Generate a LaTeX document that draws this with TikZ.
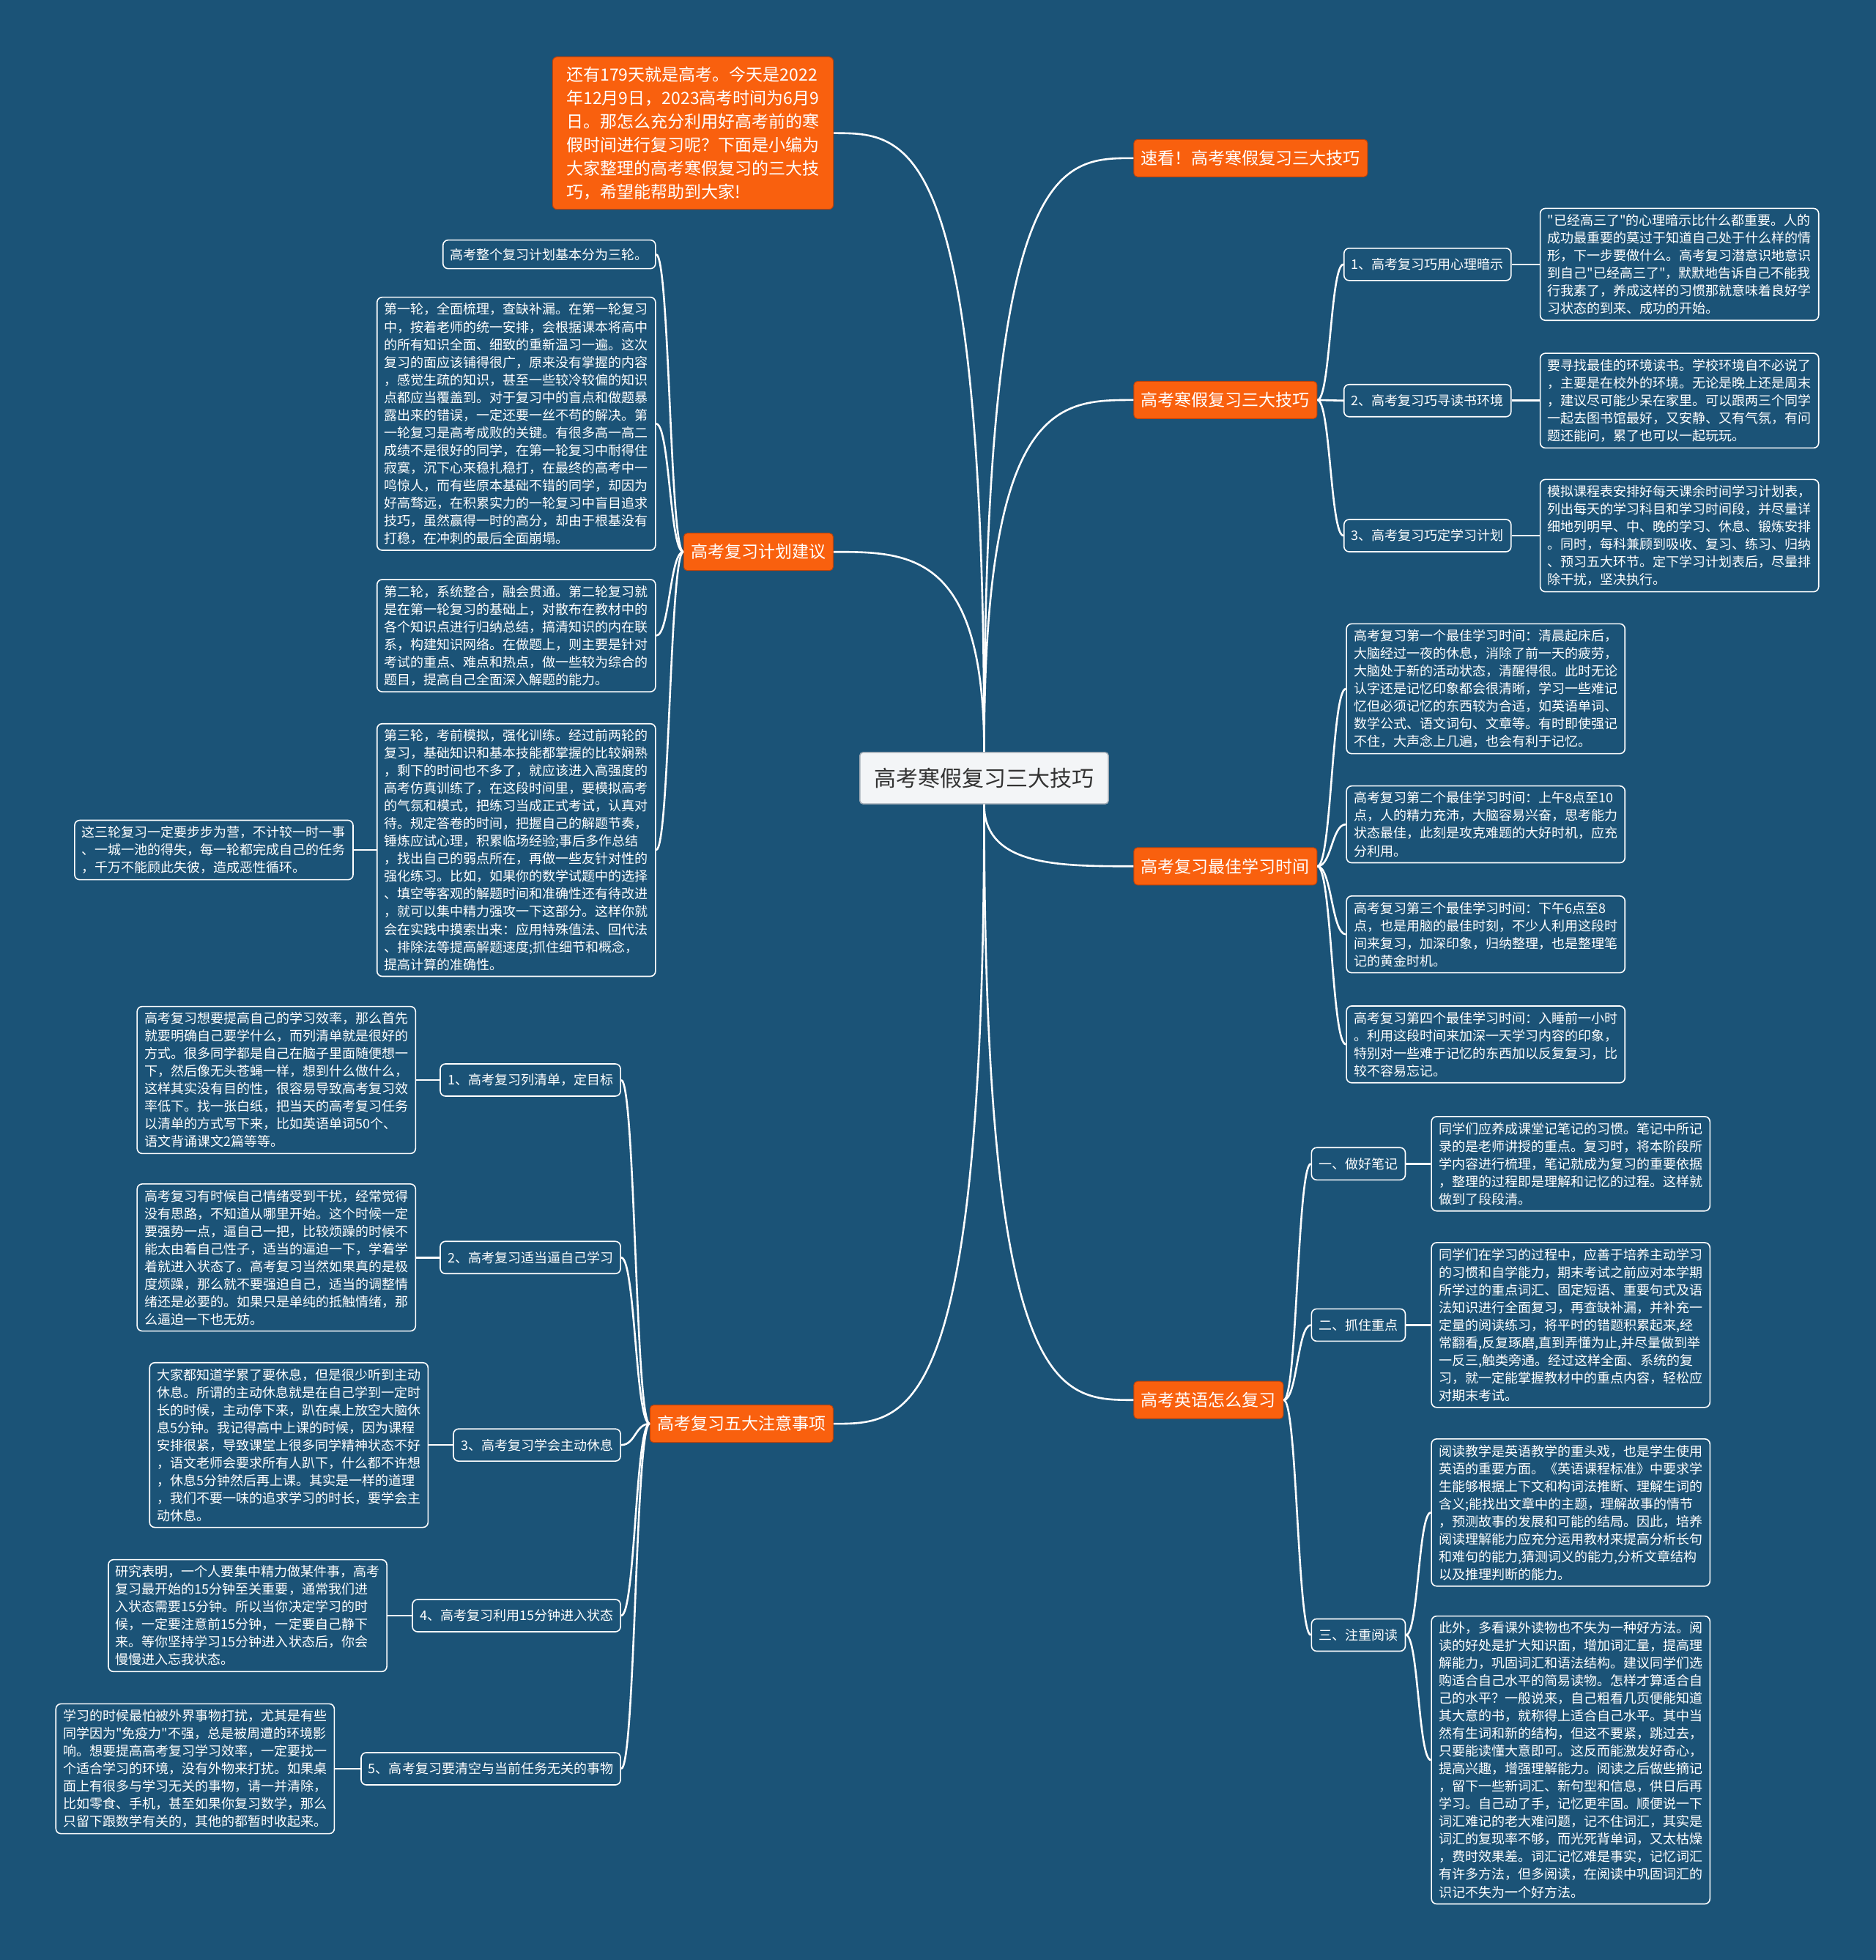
\documentclass[tikz,border=0pt]{standalone}
\usepackage{fontspec}
\setmainfont{Noto Sans CJK SC}
\newfontfamily\cjkf{Noto Sans CJK SC}
\usetikzlibrary{calc}
\definecolor{bg}{RGB}{27,83,119}
\definecolor{org}{RGB}{249,96,14}
\definecolor{orgd}{RGB}{190,66,10}
\definecolor{ctext}{RGB}{51,51,51}
\definecolor{cfill}{RGB}{243,245,247}
\definecolor{cborder}{RGB}{160,170,180}
\newcommand\mmelbow[2]{\draw[conn] let \p1=(#1), \p2=(#2) in (\p1) .. controls (\x1,\y2) and ({0.5*\x1+0.5*\x2},\y2) .. (\p2);}
\newcommand\mmscurve[2]{\draw[conn] let \p1=(#1), \p2=(#2) in (\p1) .. controls ({0.5*\x1+0.5*\x2},\y1) and ({0.5*\x1+0.5*\x2},\y2) .. (\p2);}
\begin{document}
\begin{tikzpicture}[x=1.7055pt,y=-1.7055pt,
  conn/.style={draw=white, line width=2.6pt},
  ctr/.style={draw=cborder, fill=cfill, line width=1.5pt, rounded corners=4pt, text=ctext, font=\cjkf\fontsize{30}{36}\selectfont, minimum width=339pt, minimum height=70pt},
  br/.style={fill=org, draw=orgd, line width=1pt, rounded corners=5pt, text=white, font=\cjkf\fontsize{23}{28}\selectfont, inner xsep=10pt, minimum height=51pt},
  introbox/.style={fill=org, draw=orgd, line width=1pt, rounded corners=6pt, text=white, font=\cjkf\fontsize{23}{32}\selectfont, align=left, inner xsep=19pt, inner ysep=13pt},
  lab/.style={draw=white, line width=1.6pt, rounded corners=7pt, text=white, font=\cjkf\fontsize{18}{24}\selectfont, inner xsep=10pt, minimum height=44pt},
  det/.style={draw=white, line width=1.6pt, rounded corners=7pt, text=white, font=\cjkf\fontsize{18}{24}\selectfont, align=left, inner xsep=10pt, inner ysep=8pt}
]
\fill[bg] (0,0) rectangle (1501,1568);
\useasboundingbox (0,0) rectangle (1501,1568);

% center
\node[ctr] (c) at (787.5,622.5) {高考寒假复习三大技巧};

% intro
\node[introbox] (intro) at (554.5,106.5) {还有179天就是高考。今天是2022\\年12月9日，2023高考时间为6月9\\日。那怎么充分利用好高考前的寒\\假时间进行复习呢？下面是小编为\\大家整理的高考寒假复习的三大技\\巧，希望能帮助到大家!};

% branches
\node[br, anchor=west] (b1) at (907,126.5) {速看！高考寒假复习三大技巧};
\node[br, anchor=west] (b2) at (907,320) {高考寒假复习三大技巧};
\node[br, anchor=west] (b3) at (907,693) {高考复习最佳学习时间};
\node[br, anchor=west] (b4) at (907,1120) {高考英语怎么复习};
\node[br, anchor=east] (b5) at (667,441.5) {高考复习计划建议};
\node[br, anchor=east] (b6) at (667,1139) {高考复习五大注意事项};

% b2 children
\node[lab, anchor=west] (l1) at (1075,211.5) {1、高考复习巧用心理暗示};
\node[lab, anchor=west] (l2) at (1075,320.5) {2、高考复习巧寻读书环境};
\node[lab, anchor=west] (l3) at (1075,428.5) {3、高考复习巧定学习计划};
\node[det, anchor=west] (d1) at (1232,211.5) {"已经高三了"的心理暗示比什么都重要。人的\\成功最重要的莫过于知道自己处于什么样的情\\形，下一步要做什么。高考复习潜意识地意识\\到自己"已经高三了"，默默地告诉自己不能我\\行我素了，养成这样的习惯那就意味着良好学\\习状态的到来、成功的开始。};
\node[det, anchor=west] (d2) at (1232,320.5) {要寻找最佳的环境读书。学校环境自不必说了\\，主要是在校外的环境。无论是晚上还是周末\\，建议尽可能少呆在家里。可以跟两三个同学\\一起去图书馆最好，又安静、又有气氛，有问\\题还能问，累了也可以一起玩玩。};
\node[det, anchor=west] (d3) at (1232,428.5) {模拟课程表安排好每天课余时间学习计划表，\\列出每天的学习科目和学习时间段，并尽量详\\细地列明早、中、晚的学习、休息、锻炼安排\\。同时，每科兼顾到吸收、复习、练习、归纳\\、预习五大环节。定下学习计划表后，尽量排\\除干扰，坚决执行。};

% b3 children
\node[det, anchor=west] (t1) at (1077,551) {高考复习第一个最佳学习时间：清晨起床后，\\大脑经过一夜的休息，消除了前一天的疲劳，\\大脑处于新的活动状态，清醒得很。此时无论\\认字还是记忆印象都会很清晰，学习一些难记\\忆但必须记忆的东西较为合适，如英语单词、\\数学公式、语文词句、文章等。有时即使强记\\不住，大声念上几遍，也会有利于记忆。};
\node[det, anchor=west] (t2) at (1077,659.5) {高考复习第二个最佳学习时间：上午8点至10\\点，人的精力充沛，大脑容易兴奋，思考能力\\状态最佳，此刻是攻克难题的大好时机，应充\\分利用。};
\node[det, anchor=west] (t3) at (1077,747.5) {高考复习第三个最佳学习时间：下午6点至8\\点，也是用脑的最佳时刻，不少人利用这段时\\间来复习，加深印象，归纳整理，也是整理笔\\记的黄金时机。};
\node[det, anchor=west] (t4) at (1077,835.5) {高考复习第四个最佳学习时间：入睡前一小时\\。利用这段时间来加深一天学习内容的印象，\\特别对一些难于记忆的东西加以反复复习，比\\较不容易忘记。};

% b4 children
\node[lab, anchor=west] (e1) at (1049,931) {一、做好笔记};
\node[lab, anchor=west] (e2) at (1049,1060) {二、抓住重点};
\node[lab, anchor=west] (e3) at (1049,1308) {三、注重阅读};
\node[det, anchor=west] (e1t) at (1145,931) {同学们应养成课堂记笔记的习惯。笔记中所记\\录的是老师讲授的重点。复习时，将本阶段所\\学内容进行梳理，笔记就成为复习的重要依据\\，整理的过程即是理解和记忆的过程。这样就\\做到了段段清。};
\node[det, anchor=west] (e2t) at (1145,1060) {同学们在学习的过程中，应善于培养主动学习\\的习惯和自学能力，期末考试之前应对本学期\\所学过的重点词汇、固定短语、重要句式及语\\法知识进行全面复习，再查缺补漏，并补充一\\定量的阅读练习，将平时的错题积累起来,经\\常翻看,反复琢磨,直到弄懂为止,并尽量做到举\\一反三,触类旁通。经过这样全面、系统的复\\习，就一定能掌握教材中的重点内容，轻松应\\对期末考试。};
\node[det, anchor=west] (e3a) at (1145,1210) {阅读教学是英语教学的重头戏，也是学生使用\\英语的重要方面。《英语课程标准》中要求学\\生能够根据上下文和构词法推断、理解生词的\\含义;能找出文章中的主题，理解故事的情节\\，预测故事的发展和可能的结局。因此，培养\\阅读理解能力应充分运用教材来提高分析长句\\和难句的能力,猜测词义的能力,分析文章结构\\以及推理判断的能力。};
\node[det, anchor=west] (e3b) at (1145,1408) {此外，多看课外读物也不失为一种好方法。阅\\读的好处是扩大知识面，增加词汇量，提高理\\解能力，巩固词汇和语法结构。建议同学们选\\购适合自己水平的简易读物。怎样才算适合自\\己的水平？一般说来，自己粗看几页便能知道\\其大意的书，就称得上适合自己水平。其中当\\然有生词和新的结构，但这不要紧，跳过去，\\只要能读懂大意即可。这反而能激发好奇心，\\提高兴趣，增强理解能力。阅读之后做些摘记\\，留下一些新词汇、新句型和信息，供日后再\\学习。自己动了手，记忆更牢固。顺便说一下\\词汇难记的老大难问题，记不住词汇，其实是\\词汇的复现率不够，而光死背单词，又太枯燥\\，费时效果差。词汇记忆难是事实，记忆词汇\\有许多方法，但多阅读，在阅读中巩固词汇的\\识记不失为一个好方法。};

% b5 children
\node[det, anchor=east, minimum height=39pt] (p0) at (525,203.5) {高考整个复习计划基本分为三轮。};
\node[det, anchor=east] (p1) at (525,339) {第一轮，全面梳理，查缺补漏。在第一轮复习\\中，按着老师的统一安排，会根据课本将高中\\的所有知识全面、细致的重新温习一遍。这次\\复习的面应该铺得很广，原来没有掌握的内容\\，感觉生疏的知识，甚至一些较冷较偏的知识\\点都应当覆盖到。对于复习中的盲点和做题暴\\露出来的错误，一定还要一丝不苟的解决。第\\一轮复习是高考成败的关键。有很多高一高二\\成绩不是很好的同学，在第一轮复习中耐得住\\寂寞，沉下心来稳扎稳打，在最终的高考中一\\鸣惊人，而有些原本基础不错的同学，却因为\\好高骛远，在积累实力的一轮复习中盲目追求\\技巧，虽然赢得一时的高分，却由于根基没有\\打稳，在冲刺的最后全面崩塌。};
\node[det, anchor=east] (p2) at (525,508.5) {第二轮，系统整合，融会贯通。第二轮复习就\\是在第一轮复习的基础上，对散布在教材中的\\各个知识点进行归纳总结，搞清知识的内在联\\系，构建知识网络。在做题上，则主要是针对\\考试的重点、难点和热点，做一些较为综合的\\题目，提高自己全面深入解题的能力。};
\node[det, anchor=east] (p3) at (525,680) {第三轮，考前模拟，强化训练。经过前两轮的\\复习，基础知识和基本技能都掌握的比较娴熟\\，剩下的时间也不多了，就应该进入高强度的\\高考仿真训练了，在这段时间里，要模拟高考\\的气氛和模式，把练习当成正式考试，认真对\\待。规定答卷的时间，把握自己的解题节奏，\\锤炼应试心理，积累临场经验;事后多作总结\\，找出自己的弱点所在，再做一些友针对性的\\强化练习。比如，如果你的数学试题中的选择\\、填空等客观的解题时间和准确性还有待改进\\，就可以集中精力强攻一下这部分。这样你就\\会在实践中摸索出来：应用特殊值法、回代法\\、排除法等提高解题速度;抓住细节和概念，\\提高计算的准确性。};
\node[det, anchor=east] (p4) at (283,680) {这三轮复习一定要步步为营，不计较一时一事\\、一城一池的得失，每一轮都完成自己的任务\\，千万不能顾此失彼，造成恶性循环。};

% b6 children
\node[lab, anchor=east] (f1) at (497,864) {1、高考复习列清单，定目标};
\node[lab, anchor=east] (f2) at (497,1006) {2、高考复习适当逼自己学习};
\node[lab, anchor=east] (f3) at (497,1156) {3、高考复习学会主动休息};
\node[lab, anchor=east] (f4) at (497,1292.5) {4、高考复习利用15分钟进入状态};
\node[lab, anchor=east] (f5) at (497,1415) {5、高考复习要清空与当前任务无关的事物};
\node[det, anchor=east] (g1) at (333,864) {高考复习想要提高自己的学习效率，那么首先\\就要明确自己要学什么，而列清单就是很好的\\方式。很多同学都是自己在脑子里面随便想一\\下，然后像无头苍蝇一样，想到什么做什么，\\这样其实没有目的性，很容易导致高考复习效\\率低下。找一张白纸，把当天的高考复习任务\\以清单的方式写下来，比如英语单词50个、\\语文背诵课文2篇等等。};
\node[det, anchor=east] (g2) at (333,1006) {高考复习有时候自己情绪受到干扰，经常觉得\\没有思路，不知道从哪里开始。这个时候一定\\要强势一点，逼自己一把，比较烦躁的时候不\\能太由着自己性子，适当的逼迫一下，学着学\\着就进入状态了。高考复习当然如果真的是极\\度烦躁，那么就不要强迫自己，适当的调整情\\绪还是必要的。如果只是单纯的抵触情绪，那\\么逼迫一下也无妨。};
\node[det, anchor=east] (g3) at (343,1156) {大家都知道学累了要休息，但是很少听到主动\\休息。所谓的主动休息就是在自己学到一定时\\长的时候，主动停下来，趴在桌上放空大脑休\\息5分钟。我记得高中上课的时候，因为课程\\安排很紧，导致课堂上很多同学精神状态不好\\，语文老师会要求所有人趴下，什么都不许想\\，休息5分钟然后再上课。其实是一样的道理\\，我们不要一味的追求学习的时长，要学会主\\动休息。};
\node[det, anchor=east] (g4) at (310,1292.5) {研究表明，一个人要集中精力做某件事，高考\\复习最开始的15分钟至关重要，通常我们进\\入状态需要15分钟。所以当你决定学习的时\\候，一定要注意前15分钟，一定要自己静下\\来。等你坚持学习15分钟进入状态后，你会\\慢慢进入忘我状态。};
\node[det, anchor=east] (g5) at (268,1415) {学习的时候最怕被外界事物打扰，尤其是有些\\同学因为"免疫力"不强，总是被周遭的环境影\\响。想要提高高考复习学习效率，一定要找一\\个适合学习的环境，没有外物来打扰。如果桌\\面上有很多与学习无关的事物，请一并清除，\\比如零食、手机，甚至如果你复习数学，那么\\只留下跟数学有关的，其他的都暂时收起来。};

% connectors from center
\mmelbow{c.north}{intro.east}
\mmelbow{c.north}{b5.east}
\mmelbow{c.north}{b1.west}
\mmelbow{c.north}{b2.west}
\mmelbow{c.south}{b3.west}
\mmelbow{c.south}{b4.west}
\mmelbow{c.south}{b6.east}

% second level
\mmscurve{b2.east}{l1.west}
\mmscurve{b2.east}{l2.west}
\mmscurve{b2.east}{l3.west}
\draw[conn] (l1.east) -- (d1.west);
\draw[conn] (l2.east) -- (d2.west);
\draw[conn] (l3.east) -- (d3.west);

\mmscurve{b3.east}{t1.west}
\mmscurve{b3.east}{t2.west}
\mmscurve{b3.east}{t3.west}
\mmscurve{b3.east}{t4.west}

\mmscurve{b4.east}{e1.west}
\mmscurve{b4.east}{e2.west}
\mmscurve{b4.east}{e3.west}
\draw[conn] (e1.east) -- (e1t.west);
\draw[conn] (e2.east) -- (e2t.west);
\mmscurve{e3.east}{e3a.west}
\mmscurve{e3.east}{e3b.west}

\mmscurve{b5.west}{p0.east}
\mmscurve{b5.west}{p1.east}
\mmscurve{b5.west}{p2.east}
\mmscurve{b5.west}{p3.east}
\draw[conn] (p3.west) -- (p4.east);

\mmscurve{b6.west}{f1.east}
\mmscurve{b6.west}{f2.east}
\mmscurve{b6.west}{f3.east}
\mmscurve{b6.west}{f4.east}
\mmscurve{b6.west}{f5.east}
\draw[conn] (f1.west) -- (g1.east);
\draw[conn] (f2.west) -- (g2.east);
\draw[conn] (f3.west) -- (g3.east);
\draw[conn] (f4.west) -- (g4.east);
\draw[conn] (f5.west) -- (g5.east);
\end{tikzpicture}
\end{document}
